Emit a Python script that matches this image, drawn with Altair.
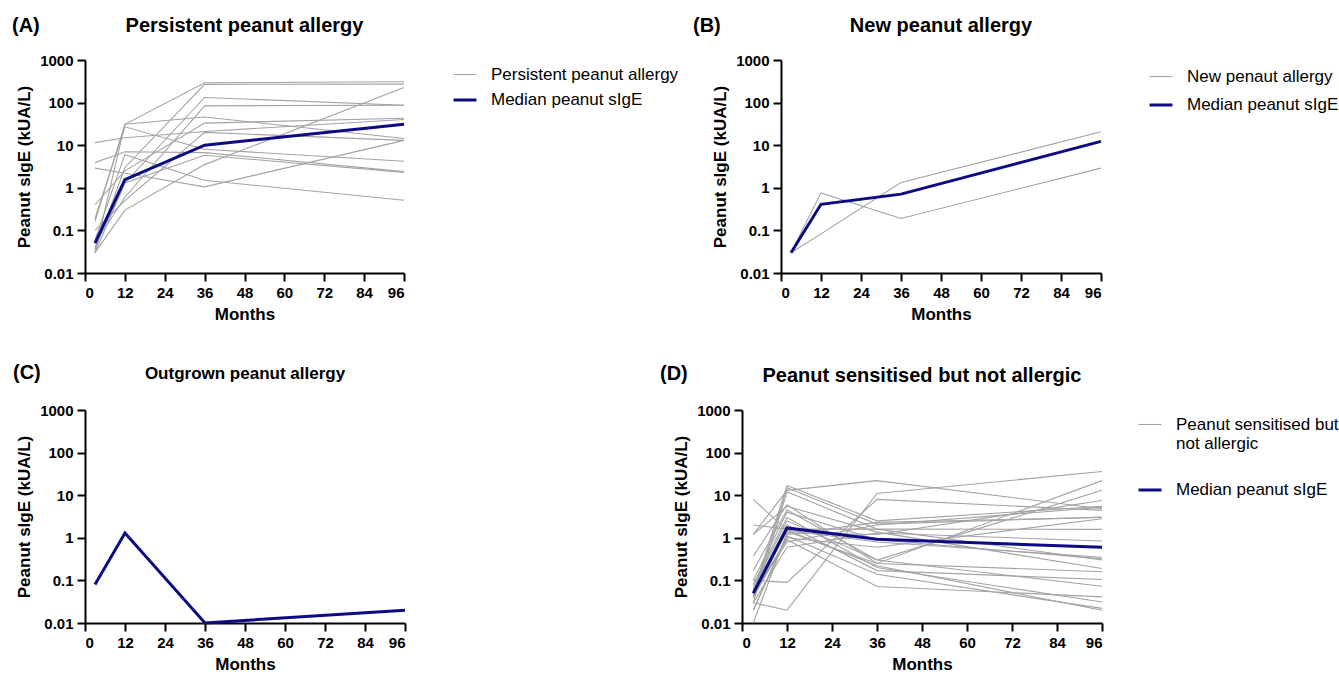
import altair as alt
import pandas as pd

FONT = "Liberation Sans"
GRAY = "#a3a3a3"
NAVY = "#0b0b84"
MEDIAN_LABEL = "Median peanut sIgE"

months = [3, 12, 36, 96]
x_ticks = [0, 12, 24, 36, 48, 60, 72, 84, 96]
y_ticks = [0.01, 0.1, 1, 10, 100, 1000]

# (A) Persistent peanut allergy: individual trajectories (values at 3, 12, 36, 96 months)
persistent_lines = [
    [0.03, 31, 292, 309],
    [0.035, 3, 268, 272],
    [0.04, 1.3, 132, 87],
    [0.05, 0.6, 84, 87],
    [0.16, 31, 46, 14.4],
    [0.4, 2.5, 33, 43],
    [11.5, 15, 21, 40],
    [0.1, 0.5, 20, 13],
    [0.19, 27, 8, 4.2],
    [3.9, 7, 6.7, 2.4],
    [0.03, 1.3, 5.8, 2.3],
    [0.03, 0.3, 3.5, 225],
    [0.06, 6, 1.5, 0.51],
    [2.9, 2.2, 1.05, 13],
]
persistent_median = [0.05, 1.55, 10, 31]

# (B) New peanut allergy
new_lines = [
    [0.03, 0.76, 0.19, 2.9],
    [0.03, 0.083, 1.33, 20.6],
]
new_median = [0.03, 0.41, 0.71, 12.3]

# (C) Outgrown peanut allergy
outgrown_median = [0.08, 1.3, 0.01, 0.02]

# (D) Peanut sensitised but not allergic
sensitised_lines = [
    [1.2, 13, 22, 4.8],
    [0.03, 0.02, 11, 36],
    [0.1, 0.09, 8, 4.4],
    [8, 1.5, 0.8, 0.35],
    [0.05, 17, 2.5, 5.5],
    [0.04, 15, 2.1, 3.05],
    [2, 1.6, 1.6, 1.58],
    [1.2, 5.5, 1.36, 0.19],
    [0.37, 6, 0.25, 22],
    [0.17, 4.5, 0.3, 13],
    [0.08, 3, 0.2, 0.031],
    [0.06, 2, 0.17, 0.105],
    [0.02, 1.1, 0.14, 0.022],
    [0.05, 0.9, 0.072, 0.041],
    [0.01, 1.3, 1.2, 7.5],
    [0.04, 1.0, 0.6, 2.8],
    [0.07, 2.5, 0.3, 0.073],
    [0.03, 0.6, 1.3, 0.84],
    [0.1, 4, 0.9, 0.32],
    [0.05, 0.8, 2.0, 5.2],
    [0.03, 12, 1.6, 0.3],
    [0.06, 1.4, 0.25, 0.16],
    [0.02, 1.2, 2.3, 3.0],
    [0.04, 1.5, 0.22, 0.02],
]
sensitised_median = [0.05, 1.7, 0.92, 0.6]


def long_table(lines, median, gray_label):
    rows = []
    for i, vals in enumerate(lines):
        for m, v in zip(months, vals):
            rows.append({"id": f"s{i}", "month": m, "value": v, "series": gray_label})
    for m, v in zip(months, median):
        rows.append({"id": "median", "month": m, "value": v, "series": MEDIAN_LABEL})
    return pd.DataFrame(rows)


def panel(letter, title, title_size, lines, median, gray_label, w, h,
          letter_x, letter_y, title_y, legend_x=None, legend_y=None, row_pad=8):
    df = long_table(lines, median, gray_label)
    x = alt.X("month:Q", scale=alt.Scale(domain=[0, 96], nice=False, zero=False),
              axis=alt.Axis(values=x_ticks, title="Months", titlePadding=6))
    y = alt.Y("value:Q", scale=alt.Scale(type="log", domain=[0.01, 1000], nice=False),
              axis=alt.Axis(values=y_ticks, format="~g", title="Peanut sIgE (kUA/L)",
                            titlePadding=6))
    layers = []
    if gray_label is not None:
        dom = [gray_label, MEDIAN_LABEL]
        leg = alt.Legend(title=None, orient="none", legendX=legend_x, legendY=legend_y,
                         symbolType="stroke", symbolSize=529, labelFont=FONT,
                         labelFontSize=17, labelColor="black", labelOffset=13,
                         rowPadding=row_pad, labelLimit=600,
                         labelExpr="datum.label == 'Peanut sensitised but not allergic' ? ['Peanut sensitised but', 'not allergic'] : datum.label")
        color = alt.Color("series:N", scale=alt.Scale(domain=dom, range=[GRAY, NAVY]), legend=leg)
        sw = alt.StrokeWidth("series:N", scale=alt.Scale(domain=dom, range=[1.1, 3]), legend=leg)
        gray = alt.Chart(df[df.series == gray_label]).mark_line().encode(
            x=x, y=y, color=color, strokeWidth=sw, detail="id:N")
        med = alt.Chart(df[df.series == MEDIAN_LABEL]).mark_line().encode(
            x=x, y=y, color=color, strokeWidth=sw, detail="id:N")
        layers += [gray, med]
    else:
        med = alt.Chart(df[df.series == MEDIAN_LABEL]).mark_line(color=NAVY, strokeWidth=3).encode(
            x=x, y=y)
        layers.append(med)
    letter_layer = alt.Chart(pd.DataFrame({"t": [letter]})).mark_text(
        align="left", baseline="alphabetic", font=FONT, fontSize=20, fontWeight="bold",
        color="black").encode(text="t:N", x=alt.value(letter_x), y=alt.value(letter_y))
    title_layer = alt.Chart(pd.DataFrame({"t": [title]})).mark_text(
        align="center", baseline="alphabetic", font=FONT, fontSize=title_size,
        fontWeight="bold", color="black").encode(text="t:N", x=alt.value(w / 2), y=alt.value(title_y))
    layers += [letter_layer, title_layer]
    return alt.layer(*layers).properties(width=w, height=h)


pA = panel("(A)", "Persistent peanut allergy", 20, persistent_lines, persistent_median,
           "Persistent peanut allergy", 319, 213, -73, -28, -28, 367, 2, 4)
pB = panel("(B)", "New peanut allergy", 20, new_lines, new_median,
           "New penaut allergy", 320, 213, -88, -28, -28, 367, 4, 7)
pC = panel("(C)", "Outgrown peanut allergy", 17, [], outgrown_median,
           None, 320, 213, -72, -31, -31)
pD = panel("(D)", "Peanut sensitised but not allergic", 20, sensitised_lines, sensitised_median,
           "Peanut sensitised but not allergic", 360, 213, -82, -30, -28, 395, 2, 25)

ind = dict(color="independent", strokeWidth="independent")
row1 = alt.hconcat(pA, pB, spacing=377, bounds="flush").resolve_scale(**ind).resolve_legend(
    color="independent", strokeWidth="independent")
row2 = alt.hconcat(pC, pD, spacing=337, bounds="flush").resolve_scale(**ind).resolve_legend(
    color="independent", strokeWidth="independent")

chart = alt.vconcat(row1, row2, spacing=41).resolve_scale(**ind).resolve_legend(
    color="independent", strokeWidth="independent").properties(
    padding={"left": 12, "top": 16, "right": 0, "bottom": 0}
).configure_view(stroke=None).configure_axis(
    domainColor="black", domainWidth=2, tickColor="black", tickWidth=2, tickSize=8,
    labelFont=FONT, labelFontSize=15, labelFontWeight="bold", labelColor="black",
    titleFont=FONT, titleFontSize=17, titleFontWeight="bold", titleColor="black",
    grid=False, labelPadding=4
)

chart.save("out.html", embed_options={"renderer": "svg", "actions": False})
